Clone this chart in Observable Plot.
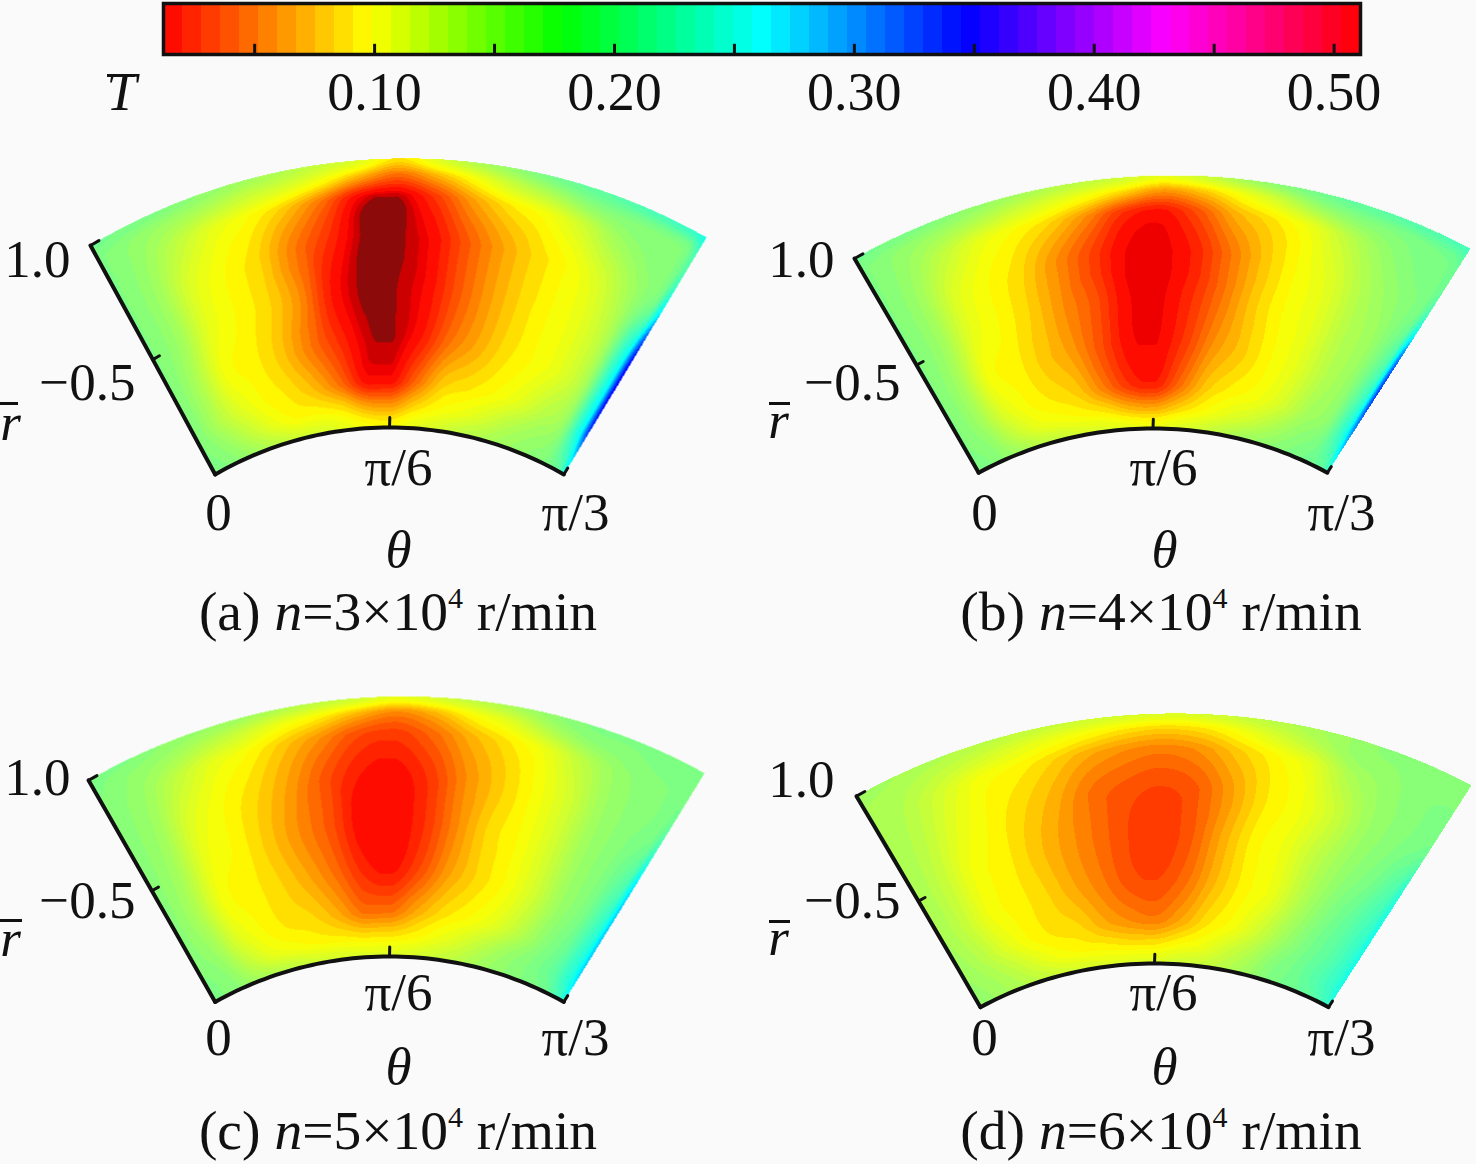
<!DOCTYPE html>
<html><head><meta charset="utf-8">
<script src="https://cdn.jsdelivr.net/npm/d3@7"></script>
<script src="https://cdn.jsdelivr.net/npm/@observablehq/plot@0.6"></script>
<style>
html,body{margin:0;padding:0;background:#fafafa;}
#fig{position:relative;width:1476px;height:1164px;overflow:hidden;font-family:"Liberation Serif",serif;color:#111;}
#fig svg{position:absolute;background:transparent;overflow:visible;}
.cap{position:absolute;transform:translate(-50%,-50%);font-size:55.5px;line-height:60px;white-space:nowrap;}
.cap sup{font-size:30px;line-height:0;vertical-align:baseline;position:relative;top:-22px;}
.bar{position:absolute;height:3px;background:#111;}
</style></head><body><div id="fig"></div>
<script>
// Colour bar
const colorStops = [0.012, 0.098, 0.178, 0.262, 0.347, 0.43, 0.511];
const colorHues = [0, 60, 120, 180, 240, 300, 360];
const barTicks = [0.05, 0.10, 0.15, 0.20, 0.25, 0.30, 0.35, 0.40, 0.45, 0.50];
const barLabels = [0.10, 0.20, 0.30, 0.40, 0.50];
const bandCount = 63;
const coreThresholds = [0.0045, 0.008, 0.012];
const coreColors = ["#8c0a0a", "#cc0000", "#ee0000"];

// Sampling grid of the field
const thetaDeg = [0, 3.75, 7.5, 11.25, 15, 18.75, 22.5, 26.25, 30, 33.75, 37.5, 41.25, 45, 48.75, 52.5, 56.25, 59, 60];
const radii = [1, 0.975, 0.94, 0.87, 0.79, 0.71, 0.64, 0.60, 0.566];

const fieldA = [
[.19,.185,.18,.17,.16,.15,.135,.12,.09,.12,.15,.17,.19,.20,.21,.22,.23,.25],
[.18,.17,.16,.15,.135,.125,.105,.075,.05,.075,.105,.135,.155,.175,.18,.18,.185,.22],
[.18,.165,.14,.115,.10,.08,.05,.012,.005,.03,.065,.09,.105,.13,.16,.175,.18,.21],
[.18,.16,.12,.10,.085,.055,.028,.004,.003,.013,.04,.065,.085,.10,.125,.16,.19,.26],
[.18,.16,.115,.098,.085,.06,.02,.003,.004,.014,.04,.065,.085,.10,.115,.155,.25,.34],
[.18,.15,.105,.095,.08,.055,.03,.008,.004,.02,.05,.07,.088,.10,.115,.155,.26,.35],
[.18,.15,.12,.10,.09,.075,.05,.018,.016,.048,.08,.09,.10,.115,.14,.165,.26,.33],
[.18,.165,.14,.115,.10,.098,.09,.07,.065,.085,.10,.11,.125,.145,.16,.175,.23,.28],
[.185,.175,.16,.145,.13,.125,.115,.105,.10,.115,.125,.14,.15,.16,.17,.18,.20,.25]];
const fieldB = [
[.19,.185,.18,.17,.16,.15,.14,.13,.115,.13,.155,.175,.19,.20,.205,.21,.215,.22],
[.18,.17,.16,.15,.135,.12,.105,.085,.065,.08,.105,.13,.16,.175,.18,.185,.19,.20],
[.18,.165,.14,.115,.10,.085,.06,.028,.018,.04,.072,.09,.11,.14,.165,.18,.185,.19],
[.18,.16,.12,.10,.085,.06,.035,.012,.009,.022,.05,.078,.10,.12,.15,.17,.185,.22],
[.18,.16,.115,.098,.082,.06,.04,.014,.01,.026,.052,.08,.10,.115,.145,.165,.21,.31],
[.18,.155,.105,.095,.08,.065,.04,.016,.012,.032,.062,.08,.098,.115,.145,.17,.23,.33],
[.18,.16,.12,.10,.09,.08,.055,.03,.022,.05,.08,.095,.105,.125,.155,.175,.24,.30],
[.18,.17,.14,.115,.105,.098,.09,.075,.07,.085,.10,.115,.13,.15,.17,.185,.22,.27],
[.185,.175,.16,.145,.135,.125,.12,.115,.11,.12,.13,.145,.16,.17,.18,.19,.20,.23]];
const fieldC = [
[.18,.18,.17,.165,.16,.15,.14,.13,.115,.125,.14,.155,.17,.18,.18,.18,.18,.18],
[.18,.17,.16,.145,.13,.11,.095,.075,.06,.075,.10,.12,.15,.17,.175,.18,.18,.18],
[.175,.165,.14,.115,.10,.08,.06,.038,.032,.048,.072,.09,.11,.14,.165,.175,.18,.185],
[.175,.16,.12,.10,.085,.065,.04,.02,.015,.03,.058,.08,.10,.125,.16,.175,.185,.21],
[.175,.155,.11,.097,.08,.06,.04,.014,.012,.028,.058,.085,.10,.125,.16,.18,.21,.27],
[.175,.15,.105,.095,.085,.07,.05,.026,.018,.038,.066,.085,.10,.125,.16,.185,.23,.28],
[.175,.16,.12,.10,.09,.085,.07,.05,.05,.07,.088,.10,.115,.14,.17,.195,.24,.28],
[.18,.17,.14,.115,.105,.098,.095,.09,.09,.097,.11,.125,.145,.165,.18,.20,.24,.27],
[.18,.175,.16,.15,.14,.13,.125,.12,.12,.125,.135,.145,.16,.17,.18,.19,.22,.25]];
const fieldD = [
[.16,.155,.15,.145,.14,.135,.13,.125,.12,.125,.135,.145,.155,.165,.175,.175,.175,.175],
[.155,.15,.14,.13,.12,.11,.10,.09,.085,.09,.105,.125,.145,.165,.17,.175,.175,.175],
[.155,.145,.125,.105,.097,.085,.07,.06,.055,.062,.08,.097,.115,.15,.165,.175,.18,.18],
[.155,.14,.115,.098,.085,.07,.05,.04,.035,.042,.065,.09,.105,.13,.16,.175,.185,.19],
[.155,.135,.105,.095,.08,.065,.05,.036,.03,.042,.07,.095,.11,.14,.165,.185,.21,.235],
[.155,.135,.105,.095,.085,.07,.055,.04,.036,.05,.075,.095,.11,.145,.175,.20,.225,.25],
[.16,.145,.12,.10,.09,.085,.07,.06,.055,.07,.09,.105,.13,.16,.185,.205,.23,.25],
[.165,.155,.14,.12,.105,.098,.095,.09,.09,.10,.11,.13,.15,.175,.19,.21,.23,.25],
[.17,.16,.15,.14,.13,.125,.12,.12,.12,.13,.135,.145,.16,.18,.19,.20,.22,.235]];

const captions = [["(a) ","3"],["(b) ","4"],["(c) ","5"],["(d) ","6"]];
const fields = [fieldA, fieldB, fieldC, fieldD];
const axisR = [1, 0.783];
const axisTheta = [0, 30, 60];

// Page layout of each sector (pixels)
const layouts = [
 {cx:389,  top:158, inner:427, sx:616, shift:.0146, tilt:.0129, L:0, T:130, rbar:[0,402,18], lab:{one:[70,260],half:[135,383],r:[10,423],t6:[398,468],t0:[218,513],t3:[575,513],th:[398,550],cap:[398,612]}},
 {cx:1152.5,top:175, inner:428, sx:616, shift:.0154, tilt:.017,  L:738,T:130, rbar:[769,402,21], lab:{one:[834,260],half:[900,383],r:[778,421],t6:[1163,468],t0:[984,513],t3:[1341,513],th:[1164,550],cap:[1161,612]}},
 {cx:389,  top:696, inner:956, sx:616, shift:.0114, tilt:.012,  L:0, T:660, rbar:[0,919,22], lab:{one:[70,778],half:[135,901],r:[10,939],t6:[398,993],t0:[218,1038],t3:[575,1038],th:[398,1067],cap:[398,1131]}},
 {cx:1154, top:713, inner:963, sx:615, shift:.0154, tilt:.019,  L:738,T:660, rbar:[769,920,21], lab:{one:[834,780],half:[900,901],r:[778,938],t6:[1163,993],t0:[984,1038],t3:[1341,1038],th:[1164,1067],cap:[1161,1131]}}
];

// Colour scales: the bar is a full HSV rainbow; the sectors blend yellow to cyan directly
const hueOf = d3.scaleLinear(colorStops, colorHues);
const T0 = colorStops[0], T1 = colorStops[colorStops.length-1], dT = (T1-T0)/bandCount;
const bands = d3.range(bandCount).map(i => ({x1:T0+i*dT, x2:T0+(i+1)*dT, mid:T0+(i+.5)*dT}));
const barColor = t => d3.hsl(hueOf(t)%360,1,.5).formatHex();
const yc = d3.interpolateRgb("#ffff00","#00ffff");
const sectorColor = t => (t>colorStops[1] && t<colorStops[3]) ? d3.color(yc((t-colorStops[1])/(colorStops[3]-colorStops[1]))).formatHex() : barColor(t);
const thresholds = [...coreThresholds, ...bands.slice(1).map(b=>b.x1)];
const barScale = {type:"threshold",domain:thresholds,range:[...coreColors,...bands.map(b=>barColor(b.mid))]};
const sectorScale = {type:"threshold",domain:thresholds,range:[...coreColors,...bands.map(b=>sectorColor(b.mid))]};

const fig = document.getElementById("fig");
const serif = "Liberation Serif";
const addBar=(x,y,w)=>{const d=document.createElement("div");d.className="bar";d.style.left=x+"px";d.style.top=y+"px";d.style.width=w+"px";fig.appendChild(d);};

// Colour bar plot
const bar = Plot.plot({
  width:1476, height:125, marginLeft:163, marginRight:116, marginTop:3, marginBottom:71,
  style:{background:"transparent",fontFamily:serif,color:"#111"},
  x:{domain:[T0,T1], axis:null},
  y:{domain:[0,1], axis:null},
  color:barScale,
  marks:[
    Plot.rect(bands,{x1:"x1",x2:"x2",y1:0,y2:1,fill:"mid",shapeRendering:"crispEdges"}),
    Plot.ruleX(barTicks,{y1:0,y2:.2,stroke:"#111",strokeWidth:3}),
    Plot.frame({stroke:"#111",strokeWidth:3.5}),
    Plot.text(barLabels,{x:d=>d,frameAnchor:"bottom",dy:38,lineAnchor:"middle",text:d=>d.toFixed(2),fontSize:54,fill:"#111"}),
    Plot.text(["T"],{frameAnchor:"bottom-left",dx:-42,dy:38,lineAnchor:"middle",textAnchor:"middle",text:d=>d,fontSize:54,fontStyle:"italic",fill:"#111"})
  ]
});
bar.style.left="0px"; bar.style.top="0px";
fig.appendChild(bar);
addBar(107,74,28);

// Clamped Catmull-Rom step
const cr=(a,b,c,d,u)=>{
  const v=.5*((2*b)+(c-a)*u+(2*a-5*b+4*c-d)*u*u+(3*b-a-3*c+d)*u*u*u);
  return Math.min(Math.max(b,c),Math.max(Math.min(b,c),v));
};

fields.forEach((field,k)=>{
  const p = layouts[k];
  const W = 738, H = 520;
  const rho0 = radii[radii.length-1];
  const sy = (p.inner-p.top)/(1-rho0);
  const warp = (theta,rho)=>{
    const a=(theta-30)*Math.PI/180, t=(rho-rho0)/(1-rho0);
    const x0=rho*Math.sin(a), y0=rho*Math.cos(a);
    return {x:x0+p.shift*t, y:y0+p.tilt*x0*t};
  };
  const nc=thetaDeg.length, nr=radii.length;
  const at=(j,i)=>field[Math.max(0,Math.min(nr-1,j))][Math.max(0,Math.min(nc-1,i))];
  const fieldAt = (x,y)=>{
    let x0=x,y0=y;
    for(let i=0;i<4;i++){
      const r=Math.hypot(x0,y0), t=(r-rho0)/(1-rho0);
      x0=x-p.shift*t; y0=y-p.tilt*x0*t;
    }
    const rho=Math.hypot(x0,y0), th=Math.atan2(x0,y0)*180/Math.PI+30;
    if(rho>1||rho<rho0||th<0||th>60) return NaN;
    let i=d3.bisectRight(thetaDeg,th)-1; i=Math.min(i,nc-2);
    let j=0; while(j<nr-2 && rho<radii[j+1]) j++;
    const u=(th-thetaDeg[i])/(thetaDeg[i+1]-thetaDeg[i]);
    const v=(radii[j]-rho)/(radii[j]-radii[j+1]);
    const row=jj=>cr(at(jj,i-1),at(jj,i),at(jj,i+1),at(jj,i+2),u);
    return cr(row(j-1),row(j),row(j+1),row(j+2),v);
  };
  const edge = radii.map(r=>warp(0,r));
  const arc = d3.range(0,60.5,1).map(t=>warp(t,rho0));
  const tickMark = (theta,rho,dTheta,dRho)=>[warp(theta,rho),warp(theta+dTheta,rho+dRho)];
  const ticks = [
    tickMark(0,axisR[0],0.9,0), tickMark(0,axisR[1],0.9,0),
    tickMark(axisTheta[1],rho0,0,.016), tickMark(axisTheta[2],rho0,0,.012)
  ];
  const lab=(s,[px,py],o={})=>Plot.text([s],{frameAnchor:"top-left",dx:px-p.L,dy:py-p.T,lineAnchor:"middle",textAnchor:"middle",text:d=>d,fontSize:53,fill:"#111",...o});
  const plot = Plot.plot({
    width:W, height:H, margin:0,
    style:{background:"transparent",fontFamily:serif,color:"#111"},
    x:{domain:[-1,1], range:[p.cx-p.L-p.sx, p.cx-p.L+p.sx], axis:null},
    y:{domain:[0,1], range:[p.top-p.T+sy, p.top-p.T], axis:null},
    color:sectorScale,
    marks:[
      Plot.raster({x1:-.56,x2:.56,y1:.44,y2:1.02,fill:fieldAt,pixelSize:1,imageRendering:"auto"}),
      Plot.line(edge,{x:"x",y:"y",stroke:"#111",strokeWidth:4}),
      Plot.line(arc,{x:"x",y:"y",stroke:"#111",strokeWidth:4}),
      ...ticks.map(t=>Plot.line(t,{x:"x",y:"y",stroke:"#111",strokeWidth:3})),
      lab("1.0",p.lab.one,{textAnchor:"end"}),
      lab("\u22120.5",p.lab.half,{textAnchor:"end"}),
      lab("r",p.lab.r,{fontStyle:"italic"}),
      lab("\u03c0/6",p.lab.t6),
      lab("0",p.lab.t0),
      lab("\u03c0/3",p.lab.t3),
      lab("\u03b8",p.lab.th,{fontStyle:"italic"})
    ]
  });
  plot.style.left=p.L+"px"; plot.style.top=p.T+"px";
  fig.appendChild(plot);
  addBar(p.rbar[0],p.rbar[1],p.rbar[2]);
  const c=document.createElement("div");
  c.className="cap";
  c.style.left=p.lab.cap[0]+"px"; c.style.top=p.lab.cap[1]+"px";
  c.innerHTML=captions[k][0]+"<i>n</i>="+captions[k][1]+"×10<sup>4</sup> r/min";
  fig.appendChild(c);
});
</script></body></html>
